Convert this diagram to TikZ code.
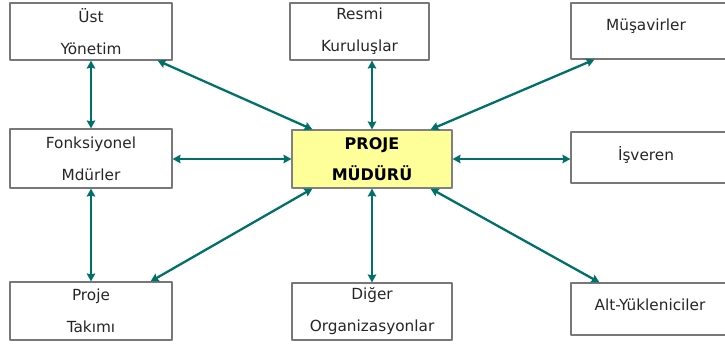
\documentclass[tikz,border=0pt]{standalone}
\usepackage{fontspec}
\setmainfont{DejaVu Sans}
\usetikzlibrary{arrows.meta}

\definecolor{linkteal}{RGB}{0,112,104}
\definecolor{boxgray}{RGB}{120,120,120}
\definecolor{pmyellow}{RGB}{255,255,153}

\tikzset{
  unit/.style={draw=boxgray, line width=1.1pt, fill=white, inner sep=0pt,
    align=center, font=\fontsize{15.3}{32}\selectfont, text=black!85},
  label text/.style={font=\fontsize{15.3}{32}\selectfont, text=black!85},
  link/.style={draw=linkteal, line width=2.3pt,
    {Stealth[length=8pt,width=8.5pt,inset=1pt]}-{Stealth[length=8pt,width=8.5pt,inset=1pt]}}
}

\begin{document}
\begin{tikzpicture}[x=1pt, y=-1pt, line cap=round, line join=round]
  \useasboundingbox (0,0) rectangle (725,345);
  \clip (0,0) rectangle (725,345);

  % outer boxes
  \node[unit, minimum width=162pt, minimum height=57pt] (ust) at (91,31.5) {Üst\\Yönetim};
  \node[unit, minimum width=139pt, minimum height=57pt] (resmi) at (359.5,31.5) {Resmi\\Kuruluşlar};
  \node[unit, minimum width=180pt, minimum height=56pt] (musavir) at (661,31) {};
  \node[label text] (musavirtxt) at (646,26) {Müşavirler};
  \node[unit, minimum width=162pt, minimum height=59pt] (fonk) at (91,158.5) {Fonksiyonel\\Mdürler};
  \node[unit, minimum width=180pt, minimum height=51pt] (isveren) at (661,157.5) {};
  \node[label text] (isverentxt) at (646,155) {İşveren};
  \node[unit, minimum width=162pt, minimum height=58pt] (takim) at (91,311) {Proje\\Takımı};
  \node[unit, minimum width=160pt, minimum height=57pt] (diger) at (372,311.5) {Diğer\\Organizasyonlar};
  \node[unit, minimum width=180pt, minimum height=52pt] (alt) at (661,309) {};
  \node[label text] (alttxt) at (650,305) {Alt-Yükleniciler};

  % centre box
  \node[unit, fill=pmyellow, draw=gray, minimum width=160pt, minimum height=58pt,
    text=black, font=\bfseries\fontsize{16}{31}\selectfont] (pm) at (372,159) {PROJE\\MÜDÜRÜ};

  % links
  \draw[link] (ust.south) -- (fonk.north);
  \draw[link] (fonk.south) -- (takim.north);
  \draw[link] ([xshift=-15pt]ust.south east) -- ([xshift=21pt]pm.north west);
  \draw[link] (pm.north |- resmi.south) -- (pm.north);
  \draw[link] ([xshift=24pt]musavir.south west) -- ([xshift=-22pt]pm.north east);
  \draw[link] (pm.west) -- (fonk.east |- pm.west);
  \draw[link] (pm.east) -- (isveren.west |- pm.east);
  \draw[link] ([xshift=21pt]pm.south west) -- ([xshift=-22pt]takim.north east);
  \draw[link] (pm.south) -- (diger.north);
  \draw[link] ([xshift=-22pt]pm.south east) -- ([xshift=29pt]alt.north west);
\end{tikzpicture}
\end{document}
